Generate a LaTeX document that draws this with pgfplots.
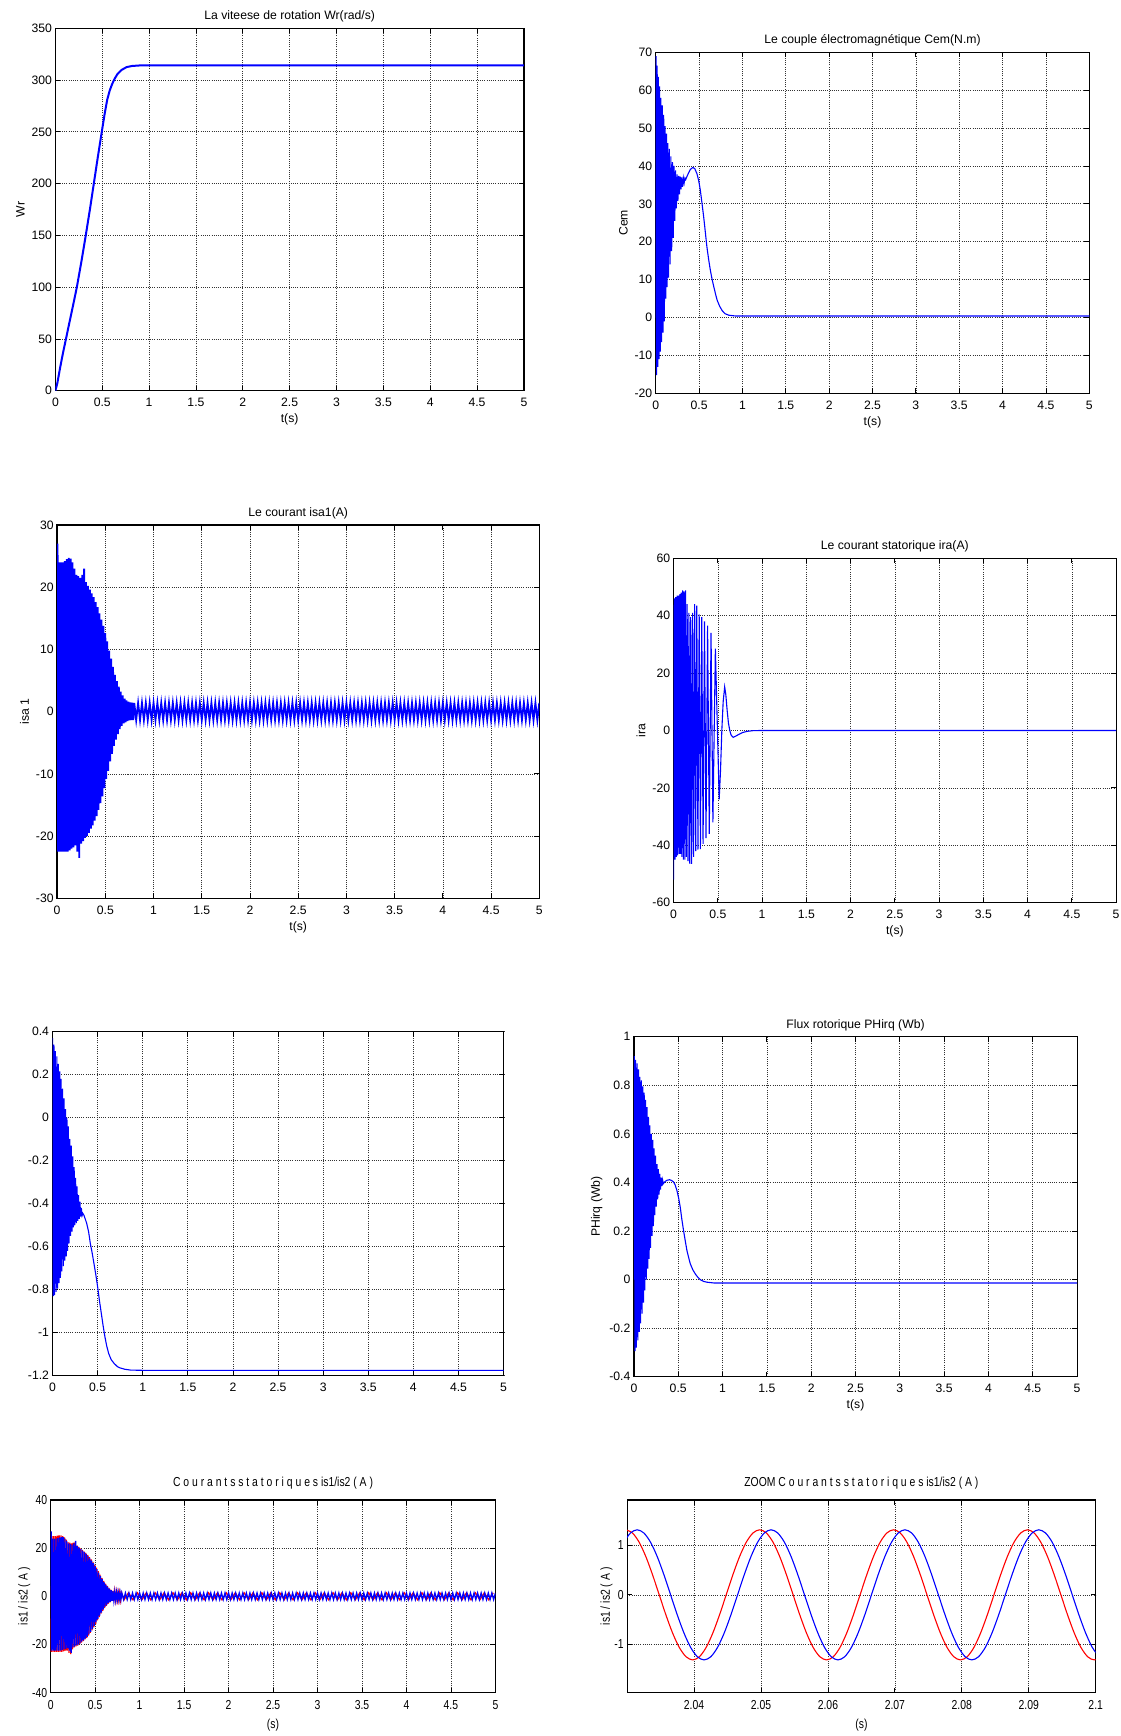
\documentclass[border=0pt]{standalone}
\usepackage{fontspec}
\setmainfont{Liberation Sans}
\newfontfamily\narrowfont[FakeStretch=0.8]{Liberation Sans}
\usepackage{pgfplots}
\usepackage{pgfplotstable}
\pgfplotsset{compat=1.18}
\newcommand{\fs}{\fontsize{12.2bp}{14bp}\selectfont}
\newcommand{\nfs}{\narrowfont\fontsize{13bp}{15bp}\selectfont}
\pgfplotsset{
  mat/.style={
    scale only axis, anchor=south west,
    xmin=0, xmax=5,
    xtick={0,0.5,1,1.5,2,2.5,3,3.5,4,4.5,5},
    grid=major,
    major grid style={draw=black!80, dash pattern=on 1bp off 1.2bp, line width=0.7bp},
    axis line style={line width=1.2bp, black},
    tick align=inside, major tick length=5bp,
    every tick/.style={black, line width=0.8bp},
    tick label style={font=\fs},
    xticklabel style={yshift=-4bp},
    label style={font=\fs},
    title style={font=\fs, at={(0.5,1)}, anchor=south, yshift=-3.5bp},
    /pgf/number format/assume math mode=true,
    scaled ticks=false,
  },
  narrow/.style={tick label style={font=\nfs}, label style={font=\nfs},
    title style={font=\nfs, yshift=4.5bp}, ylabel shift=-5bp, xlabel shift=3bp},
  sig/.style={color={rgb,255:red,0;green,0;blue,255}, line width=1.1bp, mark=none},
  rsig/.style={color={rgb,255:red,255;green,0;blue,0}, line width=1.1bp, mark=none},
}
% ---------- data ----------
\pgfplotstableread[row sep=\\]{
t w\\ 0 0\\ 0.02 7\\ 0.05 22\\ 0.08 36\\ 0.114 50.5\\ 0.15 66\\ 0.19 83\\ 0.229 100\\ 0.28 126\\ 0.324 150\\
0.37 176\\ 0.41 200\\ 0.45 224\\ 0.495 250\\ 0.525 267\\ 0.553 281\\ 0.58 290\\ 0.605 296\\ 0.629 300.7\\
0.66 305.5\\ 0.705 309.7\\ 0.76 312.5\\ 0.819 313.6\\ 0.9 314.1\\ 1 314.2\\ 5 314.2\\
}\wrtab
\pgfplotstableread[row sep=\\]{
t c\\ 0 0\\ 0.004 69\\ 0.010 -15.2\\ 0.017 66.5\\ 0.024 -13\\ 0.031 63.5\\ 0.038 -11\\ 0.045 61\\ 0.052 -9\\
0.060 58\\ 0.068 -6.5\\ 0.076 56\\ 0.084 -4\\ 0.092 53.5\\ 0.100 -1\\ 0.108 50.5\\ 0.116 5\\ 0.124 48.5\\
0.132 8\\ 0.140 46\\ 0.148 10.5\\ 0.157 44.5\\ 0.166 14\\ 0.175 42.5\\ 0.184 17.5\\ 0.193 41\\ 0.202 21\\
0.211 40\\ 0.220 25.5\\ 0.229 38.8\\ 0.238 28.8\\ 0.247 37.8\\ 0.256 30.8\\ 0.265 37.4\\ 0.274 32.5\\
0.283 37.2\\ 0.292 33.8\\ 0.301 37\\ 0.310 34.5\\ 0.319 36.8\\ 0.328 35.5\\ 0.337 36.8\\ 0.346 36.4\\
0.36 37.2\\ 0.38 38.2\\ 0.40 39.1\\ 0.428 39.6\\ 0.45 39.3\\ 0.475 38\\ 0.495 36.2\\ 0.514 33.7\\ 0.533 30.3\\
0.553 26.6\\ 0.572 22.6\\ 0.59 18.7\\ 0.61 15.4\\ 0.63 12.5\\ 0.65 10.1\\ 0.67 8.1\\ 0.69 6.2\\ 0.708 4.6\\
0.737 3\\ 0.767 1.8\\ 0.80 1\\ 0.844 0.6\\ 0.92 0.4\\ 1 0.4\\ 5 0.4\\
}\cemtab
\pgfplotstableread[row sep=\\]{
t i\\ 0 0\\ 0.005 27\\ 0.01 -22.5\\ 0.02 24\\ 0.03 -22.5\\ 0.04 24\\ 0.05 -22.5\\ 0.06 24\\ 0.07 -22.5\\ 0.08 24.2\\ 0.09 -22.5\\
0.10 24.5\\ 0.11 -22.5\\ 0.12 24.7\\ 0.13 -22.3\\ 0.14 24.6\\ 0.15 -22\\ 0.16 24\\ 0.17 -21.8\\ 0.18 23\\ 0.19 -21.5\\
0.20 22\\ 0.21 -22.5\\ 0.22 21.8\\ 0.23 -23.5\\ 0.24 21.5\\ 0.25 -21.2\\ 0.26 22\\ 0.27 -20.8\\ 0.28 23\\ 0.29 -20.3\\
0.30 20.8\\ 0.31 -20\\ 0.32 20.2\\ 0.33 -19.5\\ 0.34 19.6\\ 0.35 -18.8\\ 0.36 19\\ 0.37 -18.3\\ 0.38 18.4\\ 0.39 -17.5\\
0.40 17.6\\ 0.41 -16.8\\ 0.42 16.8\\ 0.43 -15.8\\ 0.44 15.8\\ 0.45 -14.7\\ 0.46 14.8\\ 0.47 -13.6\\ 0.48 13.8\\ 0.49 -12.3\\
0.50 12.6\\ 0.51 -10.8\\ 0.52 11.3\\ 0.53 -9.5\\ 0.54 9.8\\ 0.55 -8\\ 0.56 8.5\\ 0.57 -6.8\\ 0.58 7.2\\ 0.59 -5.5\\
0.60 5.9\\ 0.61 -4.5\\ 0.62 4.9\\ 0.63 -3.6\\ 0.64 4\\ 0.65 -2.8\\ 0.66 3.2\\ 0.67 -2.3\\ 0.68 2.6\\ 0.69 -1.9\\
0.70 2.1\\ 0.71 -1.7\\ 0.72 1.8\\ 0.73 -1.5\\ 0.74 1.6\\ 0.75 -1.4\\ 0.76 1.5\\ 0.77 -1.35\\ 0.78 1.45\\ 0.79 -1.35\\
0.80 1.4\\ 0.82 -1.35\\ 0.84 1.4\\ 0.86 -1.35\\ 0.88 1.4\\ 0.90 -1.35\\ 0.92 1.4\\ 0.94 -1.35\\ 0.96 1.4\\ 0.98 -1.35\\
1.00 1.4\\ 1.02 -1.35\\ 1.04 1.4\\ 1.06 -1.35\\ 1.08 1.4\\ 1.10 -1.35\\ 1.12 1.4\\ 1.14 -1.35\\ 1.16 1.4\\ 1.18 -1.35\\
1.20 1.4\\ 1.22 -1.35\\ 1.24 1.4\\ 1.26 -1.35\\ 1.28 1.4\\ 1.30 -1.35\\ 1.32 1.4\\ 1.34 -1.35\\ 1.36 1.4\\ 1.38 -1.35\\
1.40 1.4\\ 1.42 -1.35\\ 1.44 1.4\\ 1.46 -1.35\\ 1.48 1.4\\ 1.50 -1.35\\ 1.52 1.4\\ 1.54 -1.35\\ 1.56 1.4\\ 1.58 -1.35\\
1.60 1.4\\ 1.62 -1.35\\ 1.64 1.4\\ 1.66 -1.35\\ 1.68 1.4\\ 1.70 -1.35\\ 1.72 1.4\\ 1.74 -1.35\\ 1.76 1.4\\ 1.78 -1.35\\
1.80 1.4\\ 1.82 -1.35\\ 1.84 1.4\\ 1.86 -1.35\\ 1.88 1.4\\ 1.90 -1.35\\ 1.92 1.4\\ 1.94 -1.35\\ 1.96 1.4\\ 1.98 -1.35\\
2.00 1.4\\ 2.02 -1.35\\ 2.04 1.4\\ 2.06 -1.35\\ 2.08 1.4\\ 2.10 -1.35\\ 2.12 1.4\\ 2.14 -1.35\\ 2.16 1.4\\ 2.18 -1.35\\
2.20 1.4\\ 2.22 -1.35\\ 2.24 1.4\\ 2.26 -1.35\\ 2.28 1.4\\ 2.30 -1.35\\ 2.32 1.4\\ 2.34 -1.35\\ 2.36 1.4\\ 2.38 -1.35\\
2.40 1.4\\ 2.42 -1.35\\ 2.44 1.4\\ 2.46 -1.35\\ 2.48 1.4\\ 2.50 -1.35\\ 2.52 1.4\\ 2.54 -1.35\\ 2.56 1.4\\ 2.58 -1.35\\
2.60 1.4\\ 2.62 -1.35\\ 2.64 1.4\\ 2.66 -1.35\\ 2.68 1.4\\ 2.70 -1.35\\ 2.72 1.4\\ 2.74 -1.35\\ 2.76 1.4\\ 2.78 -1.35\\
2.80 1.4\\ 2.82 -1.35\\ 2.84 1.4\\ 2.86 -1.35\\ 2.88 1.4\\ 2.90 -1.35\\ 2.92 1.4\\ 2.94 -1.35\\ 2.96 1.4\\ 2.98 -1.35\\
3.00 1.4\\ 3.02 -1.35\\ 3.04 1.4\\ 3.06 -1.35\\ 3.08 1.4\\ 3.10 -1.35\\ 3.12 1.4\\ 3.14 -1.35\\ 3.16 1.4\\ 3.18 -1.35\\
3.20 1.4\\ 3.22 -1.35\\ 3.24 1.4\\ 3.26 -1.35\\ 3.28 1.4\\ 3.30 -1.35\\ 3.32 1.4\\ 3.34 -1.35\\ 3.36 1.4\\ 3.38 -1.35\\
3.40 1.4\\ 3.42 -1.35\\ 3.44 1.4\\ 3.46 -1.35\\ 3.48 1.4\\ 3.50 -1.35\\ 3.52 1.4\\ 3.54 -1.35\\ 3.56 1.4\\ 3.58 -1.35\\
3.60 1.4\\ 3.62 -1.35\\ 3.64 1.4\\ 3.66 -1.35\\ 3.68 1.4\\ 3.70 -1.35\\ 3.72 1.4\\ 3.74 -1.35\\ 3.76 1.4\\ 3.78 -1.35\\
3.80 1.4\\ 3.82 -1.35\\ 3.84 1.4\\ 3.86 -1.35\\ 3.88 1.4\\ 3.90 -1.35\\ 3.92 1.4\\ 3.94 -1.35\\ 3.96 1.4\\ 3.98 -1.35\\
4.00 1.4\\ 4.02 -1.35\\ 4.04 1.4\\ 4.06 -1.35\\ 4.08 1.4\\ 4.10 -1.35\\ 4.12 1.4\\ 4.14 -1.35\\ 4.16 1.4\\ 4.18 -1.35\\
4.20 1.4\\ 4.22 -1.35\\ 4.24 1.4\\ 4.26 -1.35\\ 4.28 1.4\\ 4.30 -1.35\\ 4.32 1.4\\ 4.34 -1.35\\ 4.36 1.4\\ 4.38 -1.35\\
4.40 1.4\\ 4.42 -1.35\\ 4.44 1.4\\ 4.46 -1.35\\ 4.48 1.4\\ 4.50 -1.35\\ 4.52 1.4\\ 4.54 -1.35\\ 4.56 1.4\\ 4.58 -1.35\\
4.60 1.4\\ 4.62 -1.35\\ 4.64 1.4\\ 4.66 -1.35\\ 4.68 1.4\\ 4.70 -1.35\\ 4.72 1.4\\ 4.74 -1.35\\ 4.76 1.4\\ 4.78 -1.35\\
4.80 1.4\\ 4.82 -1.35\\ 4.84 1.4\\ 4.86 -1.35\\ 4.88 1.4\\ 4.90 -1.35\\ 4.92 1.4\\ 4.94 -1.35\\ 4.96 1.4\\ 4.98 -1.35\\
5.00 1.4\\
}\isatab
\pgfplotstableread[row sep=\\]{
t i\\ 0.005 -23\\ 0.015 25\\ 0.025 -23\\ 0.035 25\\ 0.045 -23\\ 0.055 25\\ 0.065 -23\\ 0.075 25.2\\ 0.085 -23\\ 0.095 25.3\\
0.105 -23\\ 0.115 25.3\\ 0.125 -23\\ 0.135 25\\ 0.145 -22.8\\ 0.155 24.5\\ 0.165 -22.5\\ 0.175 23.5\\ 0.185 -22.5\\ 0.195 22.5\\
0.205 -23.5\\ 0.215 22.3\\ 0.225 -24\\ 0.235 22\\ 0.245 -22\\ 0.255 22.3\\ 0.265 -21.2\\ 0.275 22.5\\ 0.285 -20.8\\ 0.295 21.2\\
0.305 -20.5\\ 0.315 20.5\\ 0.325 -19.8\\ 0.335 19.9\\ 0.345 -19.2\\ 0.355 19.3\\ 0.365 -18.6\\ 0.375 18.7\\ 0.385 -17.9\\ 0.395 18\\
0.405 -17.2\\ 0.415 17.2\\ 0.425 -16.3\\ 0.435 16.3\\ 0.445 -15.2\\ 0.455 15.3\\ 0.465 -14.1\\ 0.475 14.3\\ 0.485 -12.9\\ 0.495 13.2\\
0.505 -11.5\\ 0.515 11.9\\ 0.525 -10\\ 0.535 10.5\\ 0.545 -8.6\\ 0.555 9\\ 0.565 -7.2\\ 0.575 7.7\\ 0.585 -6\\ 0.595 6.4\\
0.605 -4.9\\ 0.615 5.3\\ 0.625 -3.9\\ 0.635 4.3\\ 0.645 -3.1\\ 0.655 3.5\\ 0.665 -2.5\\ 0.675 2.8\\ 0.685 -2\\ 0.695 2.3\\
0.705 -1.8\\ 0.715 1.9\\ 0.725 -1.6\\ 0.735 1.7\\ 0.745 -1.5\\ 0.755 1.55\\ 0.765 -1.45\\ 0.775 1.5\\ 0.785 -1.42\\ 0.795 1.48\\
0.825 -1.4\\ 0.875 1.45\\ 0.925 -1.4\\ 0.975 1.45\\
1.025 -1.4\\ 1.075 1.45\\ 1.125 -1.4\\ 1.175 1.45\\ 1.225 -1.4\\ 1.275 1.45\\ 1.325 -1.4\\ 1.375 1.45\\ 1.425 -1.4\\ 1.475 1.45\\
1.525 -1.4\\ 1.575 1.45\\ 1.625 -1.4\\ 1.675 1.45\\ 1.725 -1.4\\ 1.775 1.45\\ 1.825 -1.4\\ 1.875 1.45\\ 1.925 -1.4\\ 1.975 1.45\\
2.025 -1.4\\ 2.075 1.45\\ 2.125 -1.4\\ 2.175 1.45\\ 2.225 -1.4\\ 2.275 1.45\\ 2.325 -1.4\\ 2.375 1.45\\ 2.425 -1.4\\ 2.475 1.45\\
2.525 -1.4\\ 2.575 1.45\\ 2.625 -1.4\\ 2.675 1.45\\ 2.725 -1.4\\ 2.775 1.45\\ 2.825 -1.4\\ 2.875 1.45\\ 2.925 -1.4\\ 2.975 1.45\\
3.025 -1.4\\ 3.075 1.45\\ 3.125 -1.4\\ 3.175 1.45\\ 3.225 -1.4\\ 3.275 1.45\\ 3.325 -1.4\\ 3.375 1.45\\ 3.425 -1.4\\ 3.475 1.45\\
3.525 -1.4\\ 3.575 1.45\\ 3.625 -1.4\\ 3.675 1.45\\ 3.725 -1.4\\ 3.775 1.45\\ 3.825 -1.4\\ 3.875 1.45\\ 3.925 -1.4\\ 3.975 1.45\\
4.025 -1.4\\ 4.075 1.45\\ 4.125 -1.4\\ 4.175 1.45\\ 4.225 -1.4\\ 4.275 1.45\\ 4.325 -1.4\\ 4.375 1.45\\ 4.425 -1.4\\ 4.475 1.45\\
4.525 -1.4\\ 4.575 1.45\\ 4.625 -1.4\\ 4.675 1.45\\ 4.725 -1.4\\ 4.775 1.45\\ 4.825 -1.4\\ 4.875 1.45\\ 4.925 -1.4\\ 4.975 1.45\\
}\redtab
\pgfplotstableread[row sep=\\]{
t i\\ 0.000 -52\\ 0.008 46\\ 0.016 -45\\ 0.024 46.5\\ 0.031 -44\\ 0.039 47\\ 0.046 -43.5\\ 0.054 47\\ 0.062 -43\\ 0.070 47.5\\
0.078 -43\\ 0.086 48\\ 0.094 -44\\ 0.102 48.8\\ 0.110 -45\\ 0.118 48.5\\ 0.127 -45\\ 0.135 48.8\\ 0.144 -44\\ 0.153 44\\
0.163 -45.5\\ 0.173 41\\ 0.183 -46.5\\ 0.193 39.5\\ 0.204 -46.5\\ 0.215 41\\ 0.226 -44\\ 0.238 44\\ 0.250 -42\\ 0.262 43.5\\
0.275 -41.5\\ 0.289 40.5\\ 0.303 -41.3\\ 0.318 39.5\\ 0.333 -39.5\\ 0.349 38\\ 0.366 -37.5\\ 0.384 36.5\\ 0.403 -36\\ 0.423 34\\
0.444 -32\\ 0.472 28.5\\ 0.515 -24\\ 0.53 -14\\ 0.545 0\\ 0.56 10\\ 0.577 15.2\\ 0.59 12.5\\ 0.605 7\\ 0.62 2.5\\ 0.635 0\\
0.65 -1.6\\ 0.673 -2.4\\ 0.70 -2\\ 0.74 -1.3\\ 0.78 -0.7\\ 0.83 -0.3\\ 0.9 -0.05\\ 1 0\\ 5 0\\
}\iratab
\pgfplotstableread[row sep=\\]{
t p\\ 0.000 0.37\\ 0.008 -0.83\\ 0.016 0.34\\ 0.024 -0.825\\ 0.032 0.31\\ 0.040 -0.81\\ 0.048 0.285\\ 0.056 -0.795\\
0.064 0.25\\ 0.072 -0.77\\ 0.080 0.215\\ 0.088 -0.745\\ 0.096 0.18\\ 0.104 -0.715\\ 0.112 0.135\\ 0.120 -0.69\\
0.128 0.09\\ 0.136 -0.665\\ 0.144 0.04\\ 0.152 -0.645\\ 0.160 0\\ 0.168 -0.62\\ 0.176 -0.04\\ 0.184 -0.585\\
0.192 -0.1\\ 0.200 -0.55\\ 0.208 -0.13\\ 0.216 -0.53\\ 0.224 -0.18\\ 0.232 -0.51\\ 0.240 -0.23\\ 0.248 -0.5\\
0.256 -0.28\\ 0.264 -0.49\\ 0.272 -0.32\\ 0.280 -0.48\\ 0.288 -0.36\\ 0.296 -0.47\\ 0.304 -0.39\\ 0.312 -0.46\\
0.320 -0.42\\ 0.328 -0.455\\ 0.336 -0.445\\ 0.35 -0.455\\ 0.378 -0.49\\ 0.40 -0.53\\ 0.419 -0.584\\ 0.44 -0.63\\
0.459 -0.677\\ 0.48 -0.73\\ 0.5 -0.786\\ 0.52 -0.85\\ 0.541 -0.91\\ 0.56 -0.965\\ 0.581 -1.019\\ 0.60 -1.06\\
0.622 -1.096\\ 0.65 -1.125\\ 0.683 -1.143\\ 0.72 -1.158\\ 0.744 -1.163\\ 0.8 -1.17\\ 0.866 -1.174\\ 1 -1.175\\ 5 -1.175\\
}\fivetab
\pgfplotstableread[row sep=\\]{
t p\\ 0.000 0\\ 0.005 0.92\\ 0.012 -0.295\\ 0.020 0.905\\ 0.028 -0.28\\ 0.036 0.89\\ 0.044 -0.25\\ 0.052 0.865\\
0.060 -0.215\\ 0.068 0.835\\ 0.076 -0.18\\ 0.084 0.82\\ 0.092 -0.14\\ 0.100 0.795\\ 0.108 -0.095\\ 0.116 0.77\\
0.124 -0.045\\ 0.132 0.74\\ 0.140 0\\ 0.148 0.71\\ 0.156 0.045\\ 0.164 0.67\\ 0.172 0.085\\ 0.180 0.635\\
0.188 0.13\\ 0.196 0.6\\ 0.204 0.18\\ 0.212 0.575\\ 0.220 0.22\\ 0.228 0.54\\ 0.236 0.265\\ 0.244 0.51\\
0.252 0.3\\ 0.260 0.475\\ 0.268 0.33\\ 0.276 0.455\\ 0.284 0.35\\ 0.292 0.435\\ 0.300 0.37\\ 0.308 0.42\\
0.316 0.385\\ 0.324 0.41\\ 0.332 0.395\\ 0.352 0.404\\ 0.375 0.409\\ 0.402 0.411\\ 0.425 0.408\\ 0.447 0.402\\
0.465 0.39\\ 0.485 0.367\\ 0.505 0.335\\ 0.523 0.298\\ 0.54 0.25\\ 0.56 0.202\\ 0.58 0.158\\ 0.598 0.12\\
0.618 0.09\\ 0.636 0.065\\ 0.665 0.04\\ 0.693 0.023\\ 0.72 0.01\\ 0.75 -0.001\\ 0.79 -0.008\\ 0.826 -0.011\\
0.9 -0.014\\ 1 -0.014\\ 5 -0.014\\
}\phitab
\pgfplotstableread[row sep=\\]{
tr yr tb yb\\
2.0298 1.31 2.0295 1.060\\ 2.0308 1.246 2.0305 1.246\\ 2.0318 1.060 2.0315 1.31\\ 2.0328 0.770 2.0325 1.246\\
2.0338 0.405 2.0335 1.060\\ 2.0348 0 2.0345 0.770\\ 2.0358 -0.405 2.0355 0.405\\ 2.0368 -0.770 2.0365 0\\
2.0378 -1.060 2.0375 -0.405\\ 2.0388 -1.246 2.0385 -0.770\\ 2.0398 -1.31 2.0395 -1.060\\ 2.0408 -1.246 2.0405 -1.246\\
2.0418 -1.060 2.0415 -1.31\\ 2.0428 -0.770 2.0425 -1.246\\ 2.0438 -0.405 2.0435 -1.060\\ 2.0448 0 2.0445 -0.770\\
2.0458 0.405 2.0455 -0.405\\ 2.0468 0.770 2.0465 0\\ 2.0478 1.060 2.0475 0.405\\ 2.0488 1.246 2.0485 0.770\\
2.0498 1.31 2.0495 1.060\\ 2.0508 1.246 2.0505 1.246\\ 2.0518 1.060 2.0515 1.31\\ 2.0528 0.770 2.0525 1.246\\
2.0538 0.405 2.0535 1.060\\ 2.0548 0 2.0545 0.770\\ 2.0558 -0.405 2.0555 0.405\\ 2.0568 -0.770 2.0565 0\\
2.0578 -1.060 2.0575 -0.405\\ 2.0588 -1.246 2.0585 -0.770\\ 2.0598 -1.31 2.0595 -1.060\\ 2.0608 -1.246 2.0605 -1.246\\
2.0618 -1.060 2.0615 -1.31\\ 2.0628 -0.770 2.0625 -1.246\\ 2.0638 -0.405 2.0635 -1.060\\ 2.0648 0 2.0645 -0.770\\
2.0658 0.405 2.0655 -0.405\\ 2.0668 0.770 2.0665 0\\ 2.0678 1.060 2.0675 0.405\\ 2.0688 1.246 2.0685 0.770\\
2.0698 1.31 2.0695 1.060\\ 2.0708 1.246 2.0705 1.246\\ 2.0718 1.060 2.0715 1.31\\ 2.0728 0.770 2.0725 1.246\\
2.0738 0.405 2.0735 1.060\\ 2.0748 0 2.0745 0.770\\ 2.0758 -0.405 2.0755 0.405\\ 2.0768 -0.770 2.0765 0\\
2.0778 -1.060 2.0775 -0.405\\ 2.0788 -1.246 2.0785 -0.770\\ 2.0798 -1.31 2.0795 -1.060\\ 2.0808 -1.246 2.0805 -1.246\\
2.0818 -1.060 2.0815 -1.31\\ 2.0828 -0.770 2.0825 -1.246\\ 2.0838 -0.405 2.0835 -1.060\\ 2.0848 0 2.0845 -0.770\\
2.0858 0.405 2.0855 -0.405\\ 2.0868 0.770 2.0865 0\\ 2.0878 1.060 2.0875 0.405\\ 2.0888 1.246 2.0885 0.770\\
2.0898 1.31 2.0895 1.060\\ 2.0908 1.246 2.0905 1.246\\ 2.0918 1.060 2.0915 1.31\\ 2.0928 0.770 2.0925 1.246\\
2.0938 0.405 2.0935 1.060\\ 2.0948 0 2.0945 0.770\\ 2.0958 -0.405 2.0955 0.405\\ 2.0968 -0.770 2.0965 0\\
2.0978 -1.060 2.0975 -0.405\\ 2.0988 -1.246 2.0985 -0.770\\ 2.0998 -1.31 2.0995 -1.060\\ 2.1008 -1.246 2.1005 -1.246\\
}\zoomtab
\begin{document}
\begin{tikzpicture}
\useasboundingbox (0,0) rectangle (1121bp,1736bp);
% 1 Wr
\begin{axis}[mat, at={(55.4bp,1345.3bp)}, width=468.5bp, height=362.4bp,
  ymin=0, ymax=350, ytick={0,50,100,150,200,250,300,350},
  title={La viteese de rotation Wr(rad/s)}, xlabel={t(s)}, ylabel={Wr}]
\addplot[sig, line width=2bp] table[x=t,y=w]{\wrtab};
\end{axis}
% 2 Cem
\begin{axis}[mat, at={(655.7bp,1342.7bp)}, width=433.6bp, height=341bp,
  ymin=-20, ymax=70, ytick={-20,-10,0,10,20,30,40,50,60,70},
  title={Le couple électromagnétique Cem(N.m)}, xlabel={t(s)}, ylabel={Cem}]
\addplot[sig] table[x=t,y=c]{\cemtab};
\end{axis}
% 3 isa1
\begin{axis}[mat, at={(57.1bp,837.7bp)}, width=482.2bp, height=373.3bp,
  ymin=-30, ymax=30, ytick={-30,-20,-10,0,10,20,30},
  title={Le courant isa1(A)}, xlabel={t(s)}, ylabel={isa 1}]
\addplot[sig, line width=1.8bp] table[x=t,y=i]{\isatab};
\end{axis}
% 4 ira
\begin{axis}[mat, at={(673.6bp,833.3bp)}, width=442.5bp, height=344.4bp,
  ymin=-60, ymax=60, ytick={-60,-40,-20,0,20,40,60},
  title={Le courant statorique ira(A)}, xlabel={t(s)}, ylabel={ira}]
\addplot[sig] table[x=t,y=i]{\iratab};
\end{axis}
% 5
\begin{axis}[mat, at={(52.5bp,360.3bp)}, width=451.1bp, height=344bp,
  ymin=-1.2, ymax=0.4, ytick={-1.2,-1,-0.8,-0.6,-0.4,-0.2,0,0.2,0.4}]
\addplot[sig] table[x=t,y=p]{\fivetab};
\end{axis}
% 6 PHirq
\begin{axis}[mat, at={(633.9bp,359.3bp)}, width=443.2bp, height=340bp,
  ymin=-0.4, ymax=1, ytick={-0.4,-0.2,0,0.2,0.4,0.6,0.8,1},
  title={Flux rotorique PHirq (Wb)}, xlabel={t(s)}, ylabel={PHirq (Wb)}]
\addplot[sig] table[x=t,y=p]{\phitab};
\end{axis}
% 7 is1/is2
\begin{axis}[mat, narrow, at={(50.7bp,43.3bp)}, width=444.7bp, height=192.7bp,
  ymin=-40, ymax=40, ytick={-40,-20,0,20,40},
  title={C o u r a n t s s t a t o r i q u e s is1/is2 ( A )}, xlabel={(s)}, ylabel={is1 / is2 ( A )}]
\addplot[rsig, line width=1.3bp] table[x=t,y=i]{\redtab};
\addplot[sig, line width=1.3bp] table[x=t,y=i]{\isatab};
\end{axis}
% 8 zoom
\begin{axis}[mat, narrow, at={(627.1bp,43.3bp)}, width=468.6bp, height=192.7bp,
  xmin=2.03, xmax=2.1, xtick={2.04,2.05,2.06,2.07,2.08,2.09,2.1},
  ymin=-1.97, ymax=1.91, ytick={-1,0,1},
  title={ZOOM C o u r a n t s s t a t o r i q u e s is1/is2 ( A )}, xlabel={(s)}, ylabel={is1 / is2 ( A )}]
\addplot[rsig, smooth] table[x=tr,y=yr]{\zoomtab};
\addplot[sig, smooth] table[x=tb,y=yb]{\zoomtab};
\end{axis}
\end{tikzpicture}
\end{document}
